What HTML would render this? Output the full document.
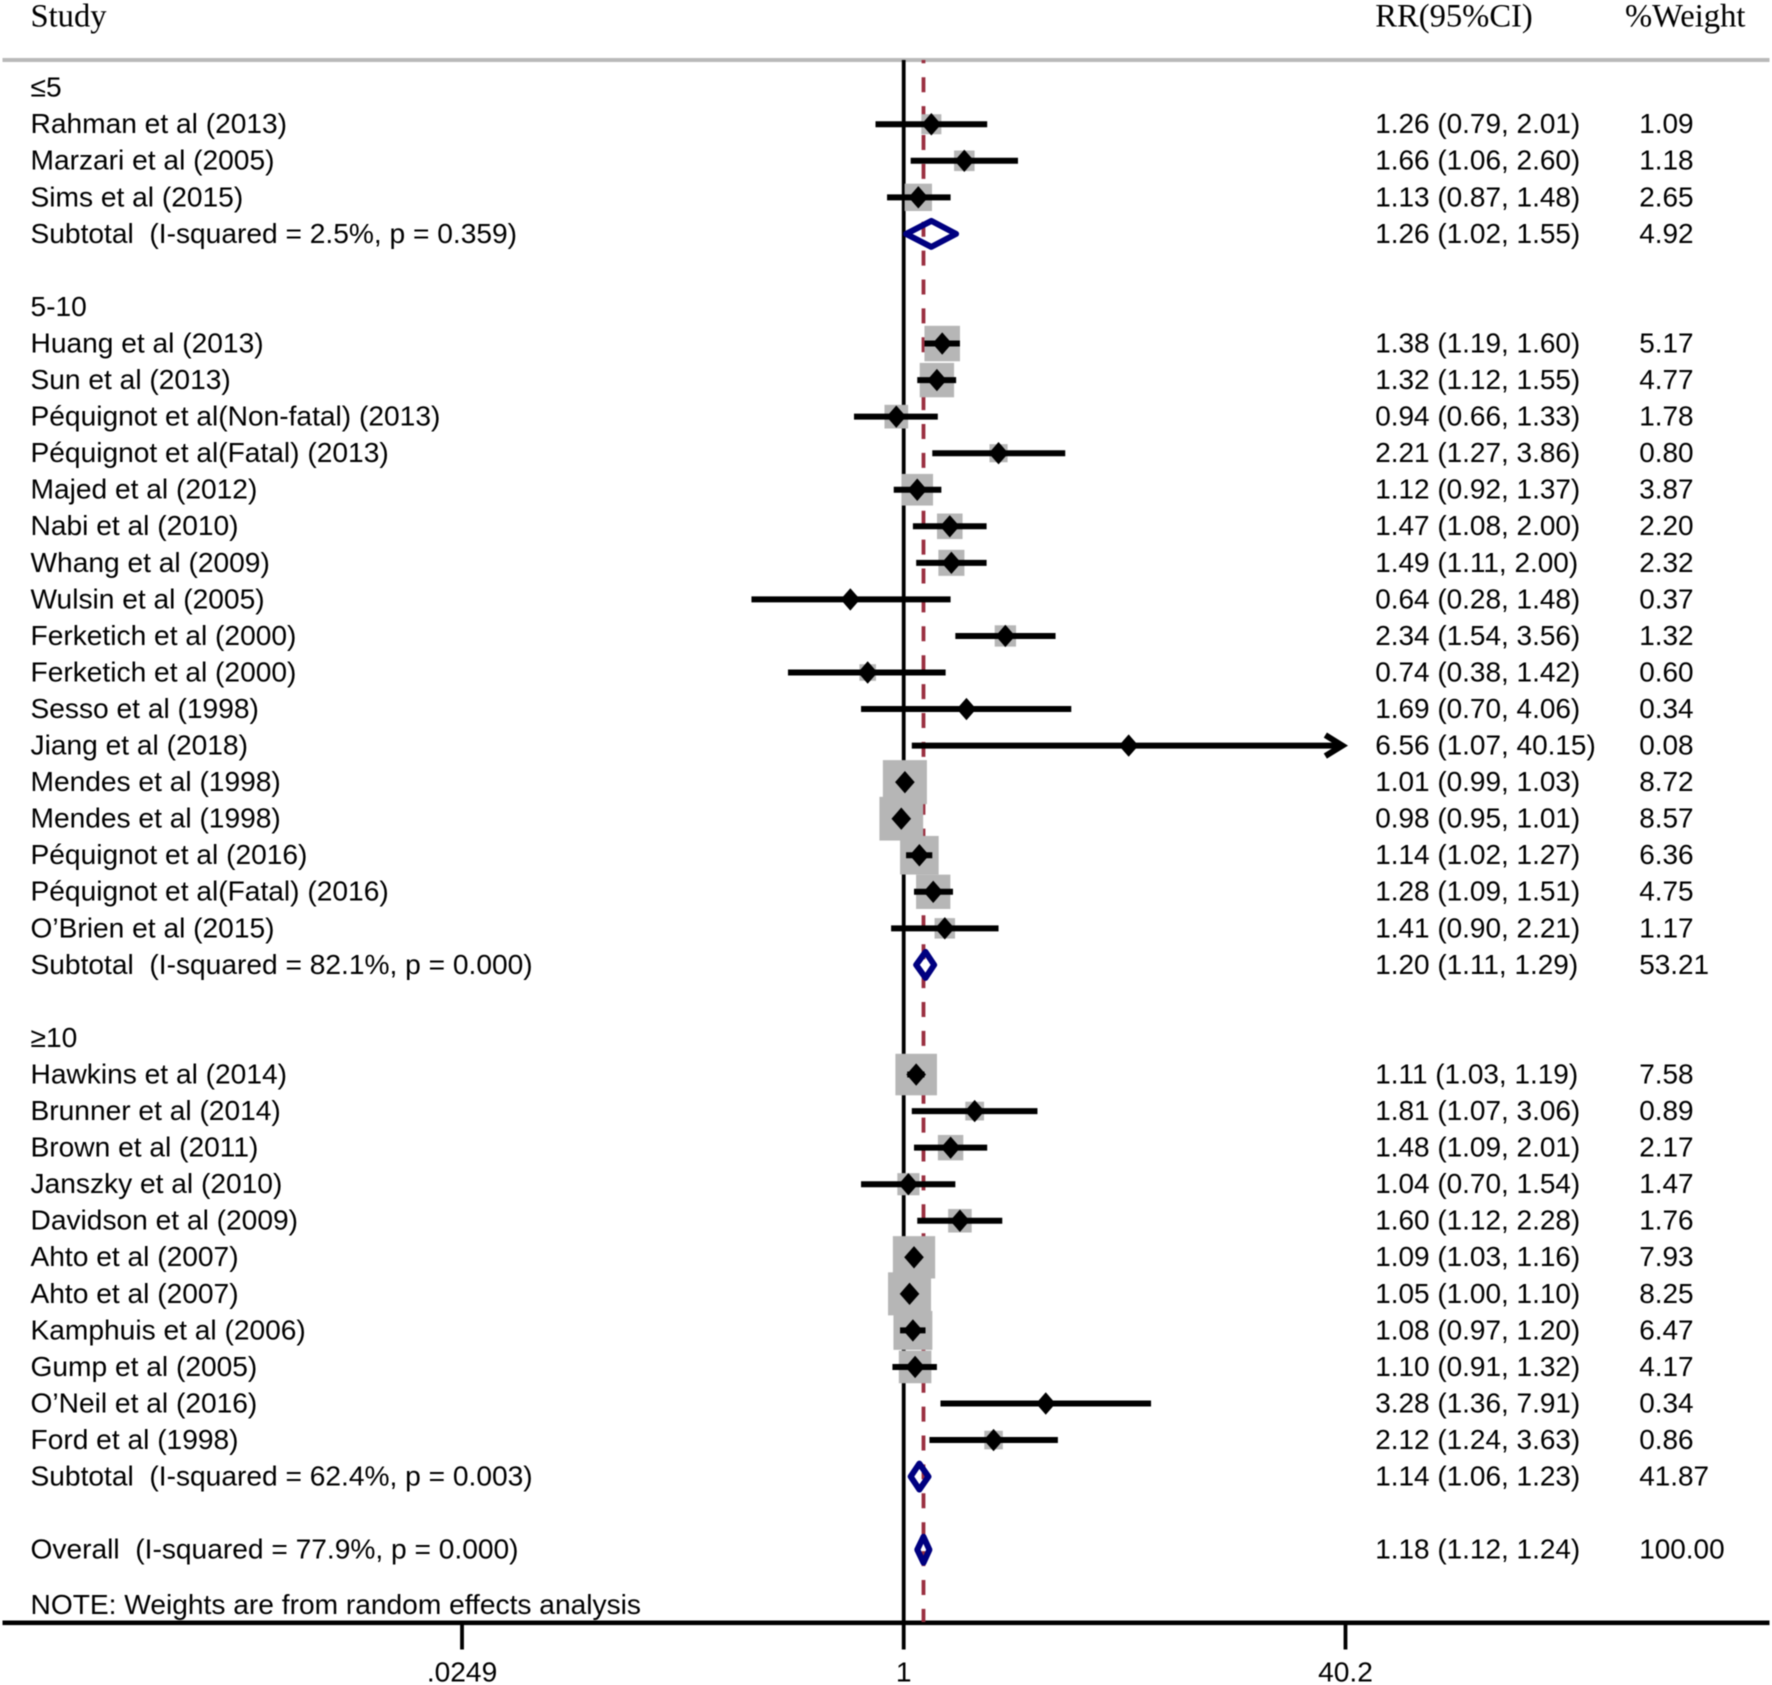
<!DOCTYPE html>
<html lang="en">
<head>
<meta charset="utf-8">
<title>Forest plot</title>
<style>
html,body{margin:0;padding:0;background:#fff;}
svg{display:block;filter:blur(0.4px);}
text{font-family:"Liberation Sans",Arial,sans-serif;font-size:28.15px;fill:#000;white-space:pre;}
text.num{font-size:27.95px;}
.serif{font-family:"Liberation Serif","Times New Roman",serif;font-size:32.6px;}
</style>
</head>
<body>
<svg id="chart" width="1772" height="1685" viewBox="0 0 1772 1685" xmlns="http://www.w3.org/2000/svg">
  <text class="serif" x="30.5" y="26.5">Study</text>
  <text class="serif" x="1375.3" y="26.5">RR(95%CI)</text>
  <text class="serif" x="1625" y="26.5">%Weight</text>
  <rect x="2.5" y="58" width="1767" height="4" fill="#b9b9b9"/>
  <text x="30.5" y="1614">NOTE: Weights are from random effects analysis</text>
</svg>
<script>
const rowLabels = ["≤5","Rahman et al (2013)","Marzari et al (2005)","Sims et al (2015)","Subtotal  (I-squared = 2.5%, p = 0.359)","",
"5-10","Huang et al (2013)","Sun et al (2013)","Péquignot et al(Non-fatal) (2013)","Péquignot et al(Fatal) (2013)","Majed et al (2012)","Nabi et al (2010)","Whang et al (2009)","Wulsin et al (2005)","Ferketich et al (2000)","Ferketich et al (2000)","Sesso et al (1998)","Jiang et al (2018)","Mendes et al (1998)","Mendes et al (1998)","Péquignot et al (2016)","Péquignot et al(Fatal) (2016)","O’Brien et al (2015)","Subtotal  (I-squared = 82.1%, p = 0.000)","",
"≥10","Hawkins et al (2014)","Brunner et al (2014)","Brown et al (2011)","Janszky et al (2010)","Davidson et al (2009)","Ahto et al (2007)","Ahto et al (2007)","Kamphuis et al (2006)","Gump et al (2005)","O’Neil et al (2016)","Ford et al (1998)","Subtotal  (I-squared = 62.4%, p = 0.003)","",
"Overall  (I-squared = 77.9%, p = 0.000)"];
const rrValues = [null,1.26,1.66,1.13,1.26,null,
null,1.38,1.32,0.94,2.21,1.12,1.47,1.49,0.64,2.34,0.74,1.69,6.56,1.01,0.98,1.14,1.28,1.41,1.20,null,
null,1.11,1.81,1.48,1.04,1.60,1.09,1.05,1.08,1.10,3.28,2.12,1.14,null,
1.18];
const lowerValues = [null,0.79,1.06,0.87,1.02,null,
null,1.19,1.12,0.66,1.27,0.92,1.08,1.11,0.28,1.54,0.38,0.70,1.07,0.99,0.95,1.02,1.09,0.90,1.11,null,
null,1.03,1.07,1.09,0.70,1.12,1.03,1.00,0.97,0.91,1.36,1.24,1.06,null,
1.12];
const upperValues = [null,2.01,2.60,1.48,1.55,null,
null,1.60,1.55,1.33,3.86,1.37,2.00,2.00,1.48,3.56,1.42,4.06,40.15,1.03,1.01,1.27,1.51,2.21,1.29,null,
null,1.19,3.06,2.01,1.54,2.28,1.16,1.10,1.20,1.32,7.91,3.63,1.23,null,
1.24];
const weightValues = [null,1.09,1.18,2.65,4.92,null,
null,5.17,4.77,1.78,0.80,3.87,2.20,2.32,0.37,1.32,0.60,0.34,0.08,8.72,8.57,6.36,4.75,1.17,53.21,null,
null,7.58,0.89,2.17,1.47,1.76,7.93,8.25,6.47,4.17,0.34,0.86,41.87,null,
100.00];
const tickValues = [0.0249,1,40.2];
const tickLabels = [".0249","1","40.2"];
const overallEffect = 1.18;

const NS = "http://www.w3.org/2000/svg";
const svg = document.getElementById("chart");
const AXIS_MAX = 40.2;
function xScale(v){ return 903.7 + 119.6 * Math.log(v); }
function yScale(i){ return 87.7 + 36.55 * i; }
function boxSide(w){ return 6.85 + 12.6 * Math.sqrt(w); }
function make(tag, attrs, parent){
  const el = document.createElementNS(NS, tag);
  for (const k in attrs) el.setAttribute(k, attrs[k]);
  (parent || svg).appendChild(el);
  return el;
}

/* axis */
const axisLine = make("rect", {x:2.5, y:1620.5, width:1767, height:4.6, fill:"#000"});



const nullLine = make("line", {x1:xScale(1), x2:xScale(1), y1:60, y2:1622, stroke:"#000", "stroke-width":3.8});



const effectLine = make("line", {x1:xScale(overallEffect), x2:xScale(overallEffect), y1:60, y2:1622, stroke:"#9a2f40", "stroke-width":3.8, "stroke-dasharray":"15 13.9", "stroke-dashoffset":11.7});



tickValues.forEach(function(v, i){
  const tick = make("line", {x1:xScale(v), x2:xScale(v), y1:1622, y2:1649.5, stroke:"#000", "stroke-width":3.8});
  
  
  const label = make("text", {x:xScale(v), y:1681.5, "text-anchor":"middle"});
  label.textContent = tickLabels[i];
  
  
});

/* weight boxes first so that all CI lines sit above them */
rowLabels.forEach(function(name, i){
  if (rrValues[i] === null || /^(Subtotal|Overall)/.test(name) || weightValues[i] < 0.5) return;
  const s = boxSide(weightValues[i]);
  const box = make("rect", {x:xScale(rrValues[i]) - s/2, y:yScale(i) - s/2, width:s, height:s, fill:"#b6b6b6"});
  
  
});

rowLabels.forEach(function(name, i){
  const y = yScale(i);
  if (name) {
    const t = make("text", {x:30.5, y:y + 8.9});
    t.textContent = name;
    
    
  }
  if (rrValues[i] === null) return;

  const ci = make("text", {x:1375.2, y:y + 8.9, "class":"num"});
  ci.textContent = rrValues[i].toFixed(2) + " (" + lowerValues[i].toFixed(2) + ", " + upperValues[i].toFixed(2) + ")";
  
  

  const wt = make("text", {x:1639.2, y:y + 8.9, "class":"num"});
  wt.textContent = weightValues[i].toFixed(2);
  
  

  const xl = xScale(lowerValues[i]), xu = xScale(upperValues[i]), xm = xScale(rrValues[i]);
  if (/^(Subtotal|Overall)/.test(name)) {
    const pooled = make("polygon", {points:[xl+","+y, xm+","+(y-13), xu+","+y, xm+","+(y+13)].join(" "), fill:"none", stroke:"#000080", "stroke-width":6, "stroke-linejoin":"round"});
    
    
    return;
  }
  const clipped = upperValues[i] >= AXIS_MAX * 0.99;
  const line = make("line", {x1:xl, x2:clipped ? xu - 3 : xu, y1:y, y2:y, stroke:"#000", "stroke-width":6});
  
  
  if (clipped) {
    const head = make("polyline", {points:[(xu-20)+","+(y-10.5), (xu-3)+","+y, (xu-20)+","+(y+10.5)].join(" "), fill:"none", stroke:"#000", "stroke-width":6, "stroke-linejoin":"miter"});
    
    
  }
  const mark = make("polygon", {points:[(xm-9.8)+","+y, xm+","+(y-11.2), (xm+9.8)+","+y, xm+","+(y+11.2)].join(" "), fill:"#000"});
  
  
});
</script>
</body>
</html>
